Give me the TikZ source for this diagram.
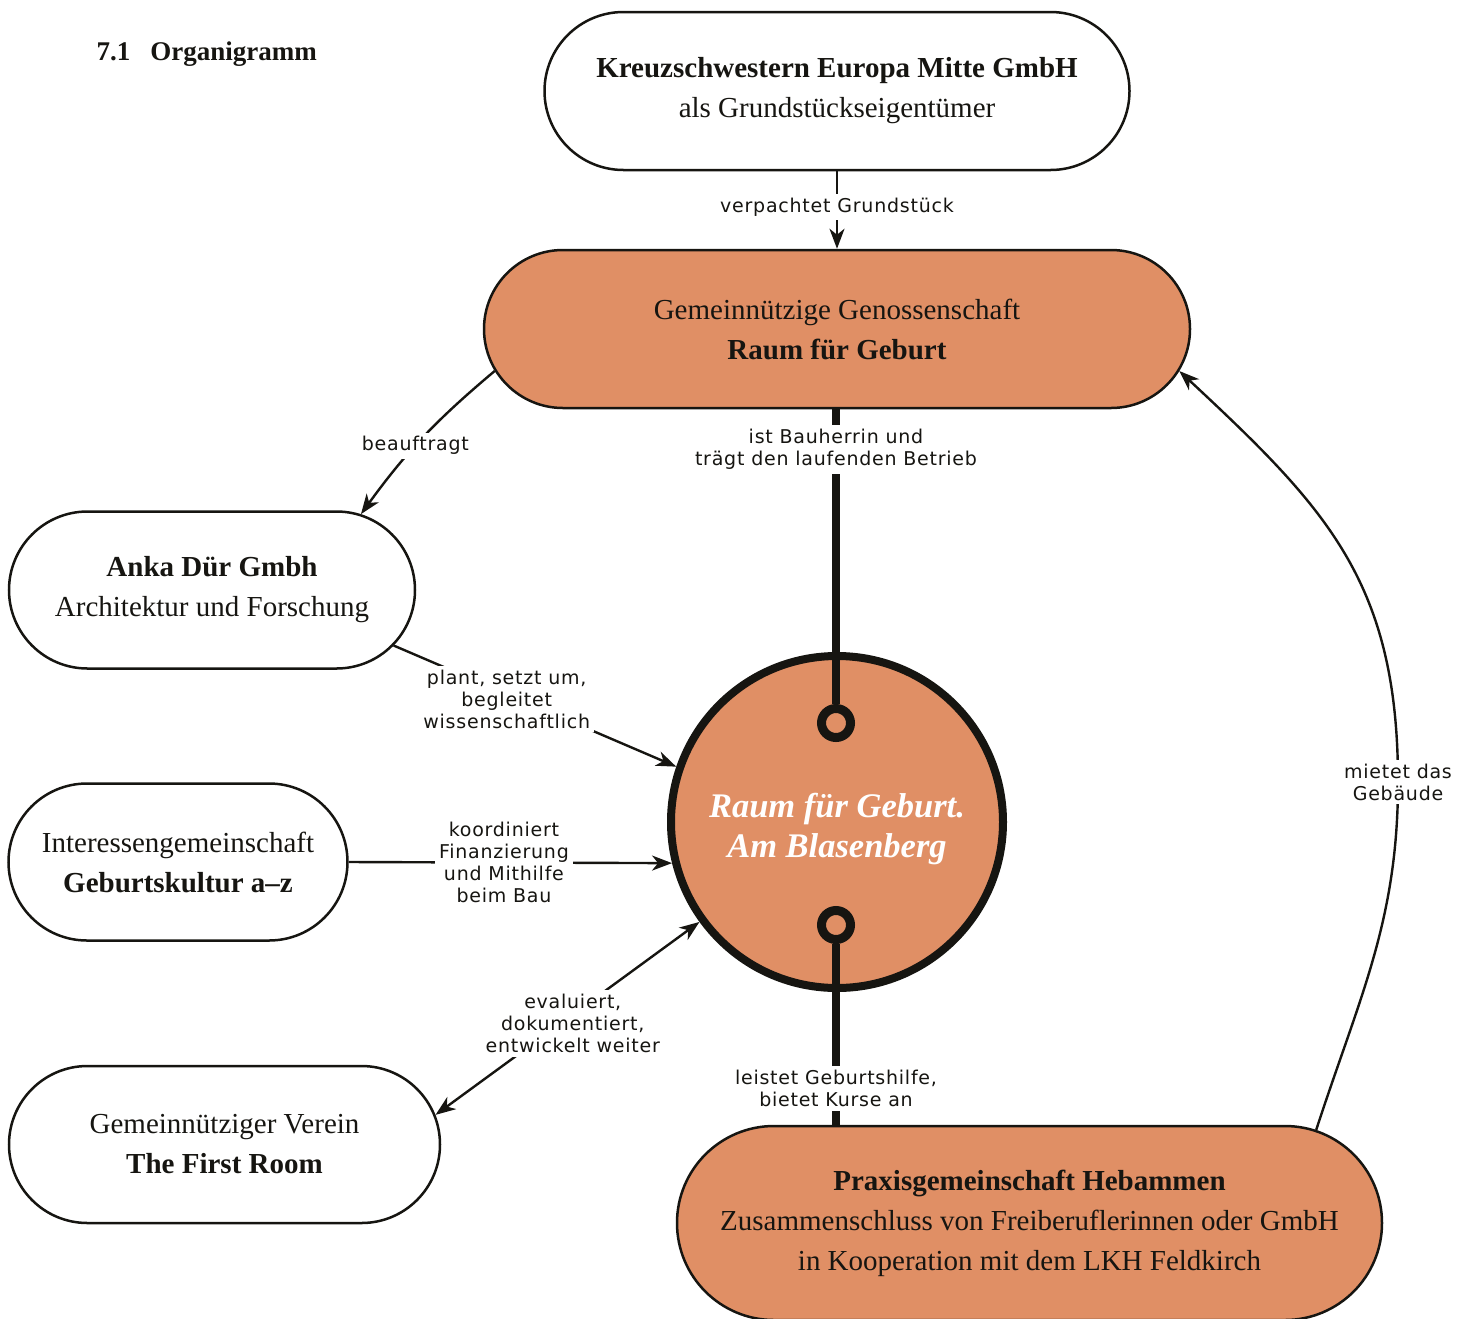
\documentclass[tikz,border=0pt]{standalone}
\usepackage{fontspec}
\setmainfont{Liberation Serif}
\newfontfamily\lblfont[LetterSpace=4]{DejaVu Sans}
\usetikzlibrary{shapes.misc,arrows.meta}
\definecolor{rfgorange}{RGB}{224,143,101}
\definecolor{ink}{RGB}{22,21,17}

\begin{document}
\begin{tikzpicture}[x=1pt,y=1pt,
    >={Stealth[length=20pt,width=15pt,inset=6pt]},
    org/.style={rounded rectangle, draw=ink, line width=2.5pt, align=center, text=ink,
        inner sep=0pt, font=\fontsize{29}{40}\selectfont},
    lbl/.style={fill=white, align=center, text=ink, inner sep=4pt,
        font=\lblfont\fontsize{19}{22}\selectfont},
    link/.style={draw=ink, line width=2.4pt},
    spine/.style={draw=ink, line width=8pt},
    ring/.style={circle, draw=ink, fill=rfgorange, line width=9pt, minimum size=29pt, inner sep=0pt}]
        \useasboundingbox (0,0) rectangle (1467,-1318);
        % Heading
        \node[anchor=base west, text=ink, font=\fontsize{27}{34}\selectfont\bfseries] (title) at (93,-60) {7.1\hspace{20pt}Organigramm};
        % Organisations
        \node[org, minimum width=585pt, minimum height=158pt] (kreuz) at (837,-91) {\textbf{Kreuzschwestern Europa Mitte GmbH}\\als Grundstückseigentümer};
        \node[org, fill=rfgorange, minimum width=706pt, minimum height=158pt] (geno) at (837,-329) {Gemeinnützige Genossenschaft\\\textbf{Raum für Geburt}};
        \node[org, minimum width=406pt, minimum height=157pt] (anka) at (212,-590) {\textbf{Anka Dür Gmbh}\\Architektur und Forschung};
        \node[org, minimum width=339pt, minimum height=157pt] (inter) at (178,-862) {Interessengemeinschaft\\\textbf{Geburtskultur a–z}};
        \node[org, minimum width=431pt, minimum height=157pt] (first) at (224.5,-1144.5) {Gemeinnütziger Verein\\\textbf{The First Room}};
        \node[org, fill=rfgorange, minimum width=705pt, minimum height=194pt] (praxis) at (1029.5,-1223) {\textbf{Praxisgemeinschaft Hebammen}\\Zusammenschluss von Freiberuflerinnen oder GmbH\\in Kooperation mit dem LKH Feldkirch};
        % Project in the middle
        \node[circle, draw=ink, fill=rfgorange, line width=8pt, minimum size=332pt, inner sep=0pt] (hub) at (837,-822) {};
        \node[align=center, text=white, font=\fontsize{34.5}{40}\selectfont\bfseries\itshape] (hubtext) at ([yshift=-7pt]hub.center) {Raum für Geburt.\\Am Blasenberg};
        \node[ring] (ringtop) at (836,-723) {};
        \node[ring] (ringbot) at (836,-925) {};
        % Thick connections
        \draw[spine] (ringtop.north |- geno.south) -- (ringtop.north) node[lbl, pos=0.136] {ist Bauherrin und\\trägt den laufenden Betrieb};
        \draw[spine] (ringbot.south) -- (ringbot.south |- praxis.north) node[lbl, pos=0.8] {leistet Geburtshilfe,\\bietet Kurse an};
        % Arrows
        \draw[link,->] (kreuz.south) -- (geno.north) node[lbl, pos=0.46] {verpachtet Grundstück};
        \draw[link,->] (geno.187) to[out=220,in=54] node[lbl, pos=0.56] {beauftragt} (anka.27);
        \draw[link,->] (anka.-17.5) -- (hub.161.6) node[lbl, pos=0.4, yshift=-5pt] {plant, setzt um,\\begleitet\\wissenschaftlich};
        \draw[link,->] (inter.east) -- (hub.194) node[lbl, pos=0.48] {koordiniert\\Finanzierung\\und Mithilfe\\beim Bau};
        \draw[link,<->] (hub.216) -- (first.8) node[lbl, pos=0.48, yshift=-9pt] {evaluiert,\\dokumentiert,\\entwickelt weiter};
        \coordinate (bend) at (1398,-782);
        \draw[link,->] (praxis.18) to[out=72,in=-90] (bend) to[out=90,in=-43,looseness=1.1] (geno.-7);
        \node[lbl] (rent) at (bend) {mietet das\\Gebäude};
    \end{tikzpicture}
\end{document}
